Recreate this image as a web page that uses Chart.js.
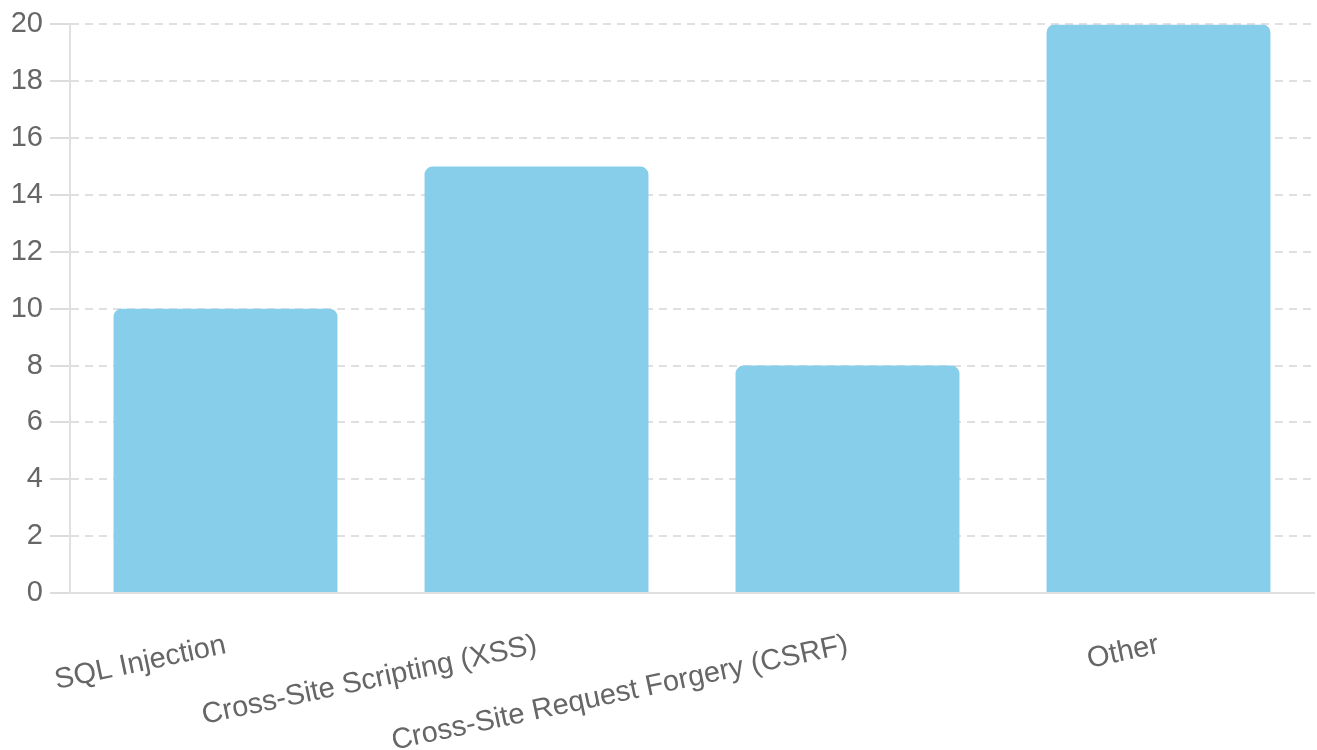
<!DOCTYPE html>
<html>
<head>
<meta charset="utf-8">
<title>Vulnerabilities</title>
<script src="https://cdn.jsdelivr.net/npm/chart.js@4/dist/chart.umd.min.js"></script>
<style>
    html, body { margin: 0; padding: 0; background: #fff; }
    #wrap { width: 1317px; height: 750px; position: relative; }
</style>
</head>
<body>
<div id="wrap"><canvas id="stats"></canvas></div>
<script>
// Vulnerability counts per type
const labels = ["SQL Injection", "Cross-Site Scripting (XSS)", "Cross-Site Request Forgery (CSRF)", "Other"]
const counts = [10, 15, 8, 20]
const yTicks = { min: 0, max: 20, step: 2 }

Chart.defaults.font.family = "'Helvetica Neue', Helvetica, Arial, 'Liberation Sans', sans-serif"
Chart.defaults.font.size = 29
Chart.defaults.color = "#666"

const stats = document.getElementById("stats")
new Chart(
    stats,
    {
        type: 'bar',
        data: {
            labels: labels,
            datasets: [
                {
                    label: "Count",
                    data: counts,
                    backgroundColor: "#87CEEB",
                    borderRadius: 8
                }
            ]
        },
        options: {
            responsive: true,
            maintainAspectRatio: false,
            animation: false,
            layout: {
                padding: { top: 3, right: 3, left: 0, bottom: 0 }
            },
            plugins: {
                legend: { display: false },
                tooltip: { enabled: false }
            },
            scales: {
                x: {
                    grid: { display: false },
                    border: { display: true, color: "#e0e0e0", width: 2 },
                    ticks: { minRotation: 12, maxRotation: 12, autoSkip: false, padding: 27 },
                    // keep room under the axis for the slanted labels
                    afterFit: scale => { scale.height = 157 }
                },
                y: {
                    min: yTicks.min,
                    max: yTicks.max,
                    ticks: { stepSize: yTicks.step, padding: 7 },
                    grid: {
                        color: "#e0e0e0",
                        lineWidth: 2,
                        tickLength: 20,
                        tickColor: "#dcdcdc",
                        tickWidth: 2
                    },
                    border: { display: true, color: "#e0e0e0", width: 2, dash: [8, 6] },
                    afterFit: scale => { scale.width = 70 }
                }
            }
        }
    }
)
</script>
</body>
</html>
